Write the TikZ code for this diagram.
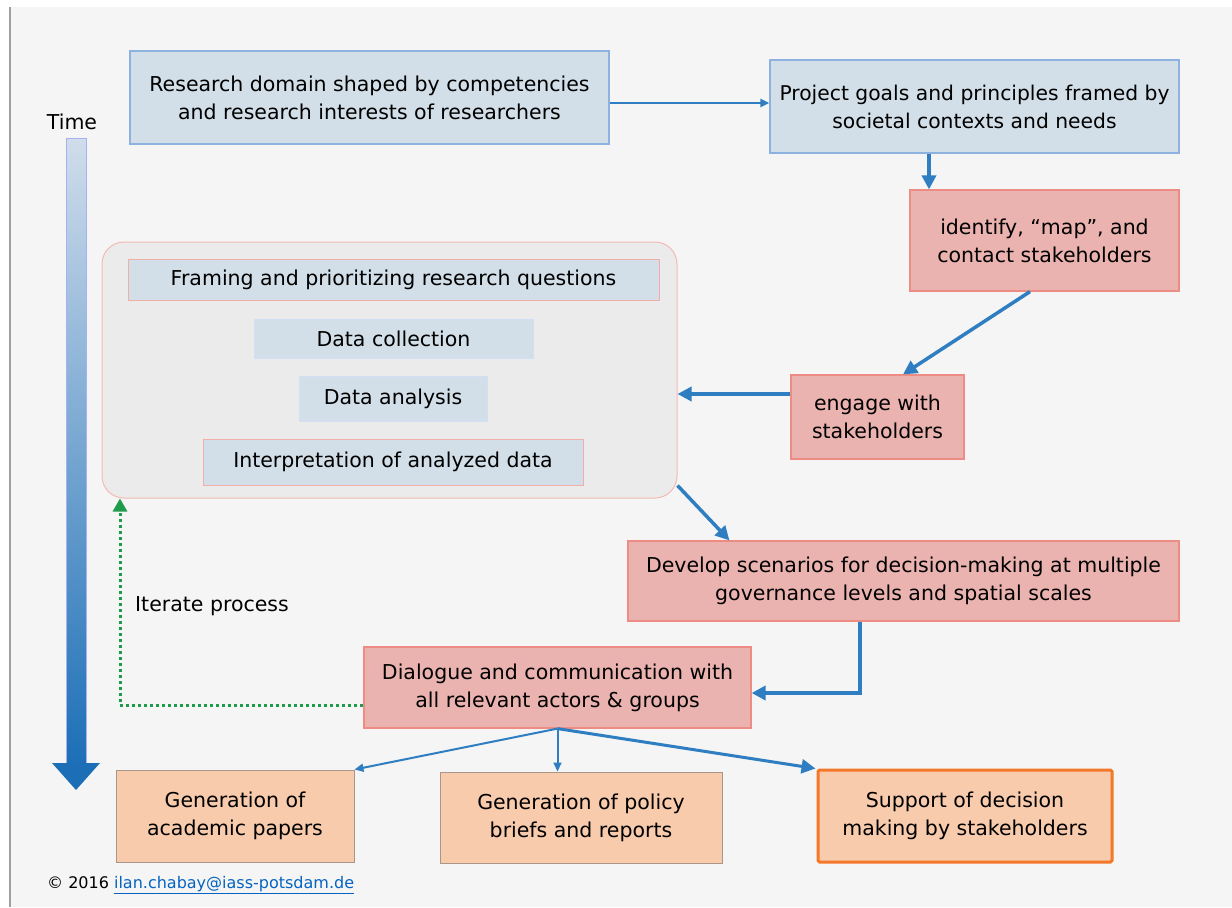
\documentclass[tikz,border=0pt]{standalone}
\usepackage{fontspec}
\setmainfont{DejaVu Sans}
\usepackage{tikz}
\usetikzlibrary{arrows.meta, positioning, calc}
\definecolor{pagebg}{RGB}{245,245,245}
\definecolor{frameline}{RGB}{160,160,160}
\definecolor{bluefill}{RGB}{211,223,232}
\definecolor{blueedge}{RGB}{142,178,224}
\definecolor{pinkfill}{RGB}{235,179,176}
\definecolor{pinkedge}{RGB}{236,140,132}
\definecolor{peachfill}{RGB}{248,203,173}
\definecolor{peachedge}{RGB}{170,150,135}
\definecolor{orangeedge}{RGB}{244,120,42}
\definecolor{boxgray}{RGB}{235,235,235}
\definecolor{flowblue}{RGB}{46,126,193}
\definecolor{timeblue}{RGB}{28,111,183}
\definecolor{timelight}{RGB}{208,221,235}
\definecolor{iterategreen}{RGB}{30,155,75}
\definecolor{linkblue}{RGB}{5,99,193}
\tikzset{
  boxtext/.style={align=center, inner sep=0pt, font=\fontsize{20.5}{28}\selectfont},
  blueblock/.style={boxtext, rectangle, draw=blueedge, line width=1.2pt, fill=bluefill},
  pinkblock/.style={boxtext, rectangle, draw=pinkedge, line width=1.2pt, fill=pinkfill},
  peachblock/.style={boxtext, rectangle, draw=peachedge, line width=1pt, fill=peachfill},
  stepblock/.style={boxtext, rectangle, draw=pinkedge!70, line width=1pt, fill=bluefill},
  thinflow/.style={-{Triangle[length=9pt, width=8pt]}, line width=2pt, draw=flowblue},
  thickflow/.style={-{Triangle[length=14pt, width=14pt]}, line width=3.5pt, draw=flowblue},
  iterflow/.style={-{Triangle[length=13pt, width=14pt]}, line width=3pt, draw=iterategreen, dash pattern=on 3pt off 3pt}
}
\begin{document}
\begin{tikzpicture}[x=1pt, y=-1pt]

% -------- PAGE --------
\fill[white] (0,0) rectangle (1232,907);
\fill[pagebg] (10,7) rectangle (1232,907);
\draw[frameline, line width=1.2pt] (10,7) -- (10,907);
\useasboundingbox (0,0) rectangle (1232,907);

% -------- TIME AXIS --------
\node[font=\fontsize{20.5}{28}\selectfont] (time) at (72,122) {Time};
\shade[top color=timelight, bottom color=timeblue, draw=timelight!80!blue, line width=0.6pt] (66,138) rectangle (86,764);
\fill[timeblue] (52,763) -- (100,763) -- (76,790) -- cycle;

% -------- TOP ROW --------
\node[blueblock, minimum width=479, minimum height=93] (rdom) at (369.5,97.5)
  {Research domain shaped by competencies\\ and research interests of researchers};
\node[blueblock, minimum width=409, minimum height=93, font=\fontsize{20.3}{28}\selectfont] (goals) at (974.5,106.5)
  {Project goals and principles framed by\\ societal contexts and needs};
\node[pinkblock, minimum width=269, minimum height=101] (ident) at (1044.5,240.5)
  {identify, “map”, and\\ contact stakeholders};
\node[pinkblock, minimum width=173, minimum height=84] (engage) at (877.5,417)
  {engage with\\ stakeholders};

% -------- RESEARCH CYCLE --------
\node[rectangle, rounded corners=22pt, draw=pinkedge!60, line width=1pt, fill=boxgray,
  minimum width=575, minimum height=256] (cycle) at (389.5,370) {};
\node[stepblock, minimum width=531, minimum height=41] (framing) at (393.5,279.5)
  {Framing and prioritizing research questions};
\node[stepblock, draw=blueedge!40, minimum width=279, minimum height=39] (collect) at (393.5,338.5)
  {Data collection};
\node[stepblock, draw=blueedge!40, minimum width=188, minimum height=45] (analysis) at (393,398.5)
  {Data analysis};
\node[stepblock, minimum width=380, minimum height=46] (interp) at (393,462)
  {Interpretation of analyzed data};

% -------- SCENARIOS AND DIALOGUE --------
\node[pinkblock, minimum width=551, minimum height=80] (scen) at (903.5,581)
  {Develop scenarios for decision-making at multiple\\ governance levels and spatial scales};
\node[pinkblock, minimum width=387, minimum height=81] (dialog) at (557.5,687.5)
  {Dialogue and communication with\\ all relevant actors \& groups};
\node[font=\fontsize{20.5}{28}\selectfont] (iterate) at (212,606) {Iterate process};

% -------- OUTPUTS --------
\node[peachblock, minimum width=238, minimum height=92] (papers) at (235,816)
  {Generation of\\ academic papers};
\node[peachblock, minimum width=282, minimum height=91] (briefs) at (581,817.5)
  {Generation of policy\\ briefs and reports};
\node[peachblock, draw=orangeedge, line width=3pt, rounded corners=1.5pt, minimum width=294, minimum height=92] (support) at (965,816)
  {Support of decision\\ making by stakeholders};

\node[anchor=west, font=\fontsize{16}{20}\selectfont, inner sep=0pt] (copy) at (47,885)
  {© 2016 \textcolor{linkblue}{\underline{ilan.chabay@iass-potsdam.de}}};

% -------- CONNECTORS --------
\draw[thinflow] ([yshift=-5.5pt]rdom.east) coordinate (a1) -- (a1 -| goals.west);
\draw[thickflow] ([xshift=-45.5pt]goals.south) coordinate (a2) -- (a2 |- ident.north);
\draw[thickflow] ([xshift=-14.5pt]ident.south) -- ([xshift=25.5pt]engage.north);
\draw[thickflow] ([yshift=23pt]engage.west) coordinate (a3) -- (a3 -| cycle.east);
\draw[thickflow] ([yshift=13pt]cycle.south east) -- ([xshift=102pt]scen.north west);
\draw[thickflow] ([xshift=-43.5pt]scen.south) |- ([yshift=-5.5pt]dialog.east);
\draw[iterflow] ([yshift=-17.5pt]dialog.west) -| ([xshift=-269.5pt]cycle.south);

\draw[thinflow] (dialog.south) -- (papers.north east);
\draw[thinflow] (dialog.south) -- (dialog.south |- briefs.north);
\draw[thickflow, line width=3pt] (dialog.south) -- ([xshift=-1pt]support.north west);

\end{tikzpicture}
\end{document}
